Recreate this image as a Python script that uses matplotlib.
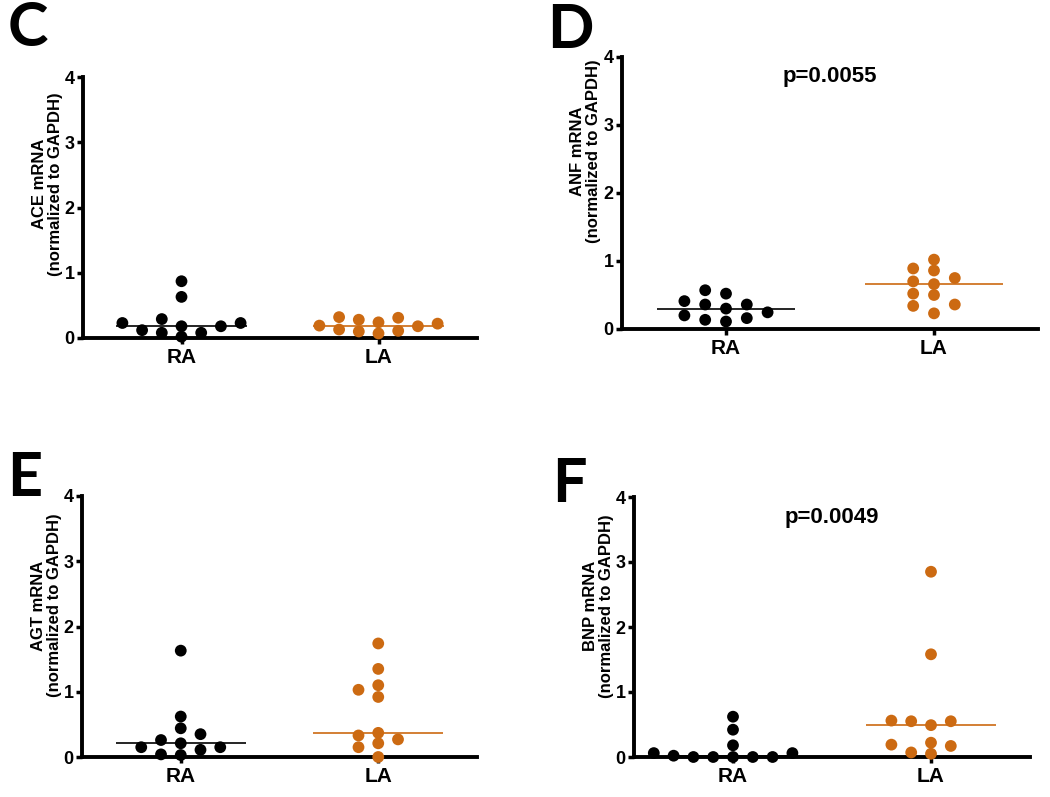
import numpy as np
import matplotlib.pyplot as plt

plt.rcParams['font.family'] = ['Liberation Sans', 'DejaVu Sans']
plt.rcParams['font.weight'] = 'bold'

groups = ["RA", "LA"]
colors = ["#000000", "#CC6A12"]

# values (normalized to GAPDH)
ace_ra = [0.87, 0.63, 0.18, 0.23, 0.02, 0.12, 0.23, 0.08, 0.29, 0.08, 0.18]
ace_la = [0.28, 0.11, 0.22, 0.31, 0.13, 0.19, 0.24, 0.07, 0.18, 0.32, 0.10]
anf_ra = [0.135, 0.41, 0.245, 0.52, 0.36, 0.16, 0.57, 0.36, 0.20, 0.30, 0.11]
anf_la = [0.86, 0.70, 0.52, 0.23, 1.02, 0.75, 0.36, 0.89, 0.66, 0.50, 0.34]
agt_ra = [1.63, 0.62, 0.35, 0.11, 0.44, 0.15, 0.26, 0.04, 0.15, 0.21, 0.03]
agt_la = [1.74, 1.35, 1.10, 0.92, 1.03, 0.33, 0.15, 0.0, 0.27, 0.37, 0.21]
bnp_ra = [0.18, 0.0, 0.06, 0.0, 0.42, 0.06, 0.62, 0.0, 0.02, 0.0, 0.0]
bnp_la = [2.85, 1.58, 0.56, 0.49, 0.55, 0.55, 0.19, 0.22, 0.17, 0.05, 0.07]

panels = ["C", "D", "E", "F"]
genes = ["ACE", "ANF", "AGT", "BNP"]
series = [(ace_ra, ace_la), (anf_ra, anf_la), (agt_ra, agt_la), (bnp_ra, bnp_la)]
pvals = [None, "p=0.0055", None, "p=0.0049"]

# axes boxes in pixels: left, right, top, bottom
W, H = 1050, 797
boxes = [(83, 477, 77, 338), (622, 1038, 57, 329),
         (82, 477, 496, 757), (634, 1030, 497, 757)]
letter_xy = [(8, 0), (547, 2), (7, 450), (552, 456)]
label_y = [0.59, 0.655, 0.58, 0.58]


def swarm(values, slot=0.1, vgap=0.155):
    # simple column beeswarm: nearest free slot around the centre
    values = np.asarray(values, dtype=float)
    steps = [0.0]
    for k in range(1, 40):
        steps += [-k * 0.5, k * 0.5]
    offs = np.zeros(len(values))
    placed = []
    for i in np.argsort(values, kind="stable"):
        v = values[i]
        for s in steps:
            dx = s * slot
            if all(abs(dx - px) > slot * 0.99 or abs(v - py) >= vgap
                   for px, py in placed):
                offs[i] = dx
                placed.append((dx, v))
                break
    return offs


fig = plt.figure(figsize=(W / 100, H / 100), dpi=100)

for n in range(4):
    l, r, t, b = boxes[n]
    ax = fig.add_axes([l / W, 1 - b / H, (r - l) / W, (b - t) / H])
    for j in range(2):
        vals = np.array(series[n][j])
        x = j + 1 + swarm(vals)
        ax.scatter(x, vals, s=72, color=colors[j], edgecolors="none",
                   zorder=4, clip_on=False)
        med = np.median(vals)
        ax.plot([j + 1 - 0.33, j + 1 + 0.33], [med, med], color=colors[j],
                lw=1.2, zorder=3, solid_capstyle="butt")
    ax.set_xlim(0.5, 2.5)
    ax.set_ylim(0, 4)
    ax.set_xticks([1, 2])
    ax.set_xticklabels(groups, fontsize=15, fontweight="bold")
    ax.set_yticks([0, 1, 2, 3, 4])
    ax.set_yticklabels(["0", "1", "2", "3", "4"], fontsize=13, fontweight="bold")
    for sp in ["top", "right"]:
        ax.spines[sp].set_visible(False)
    for sp in ["left", "bottom"]:
        ax.spines[sp].set_linewidth(2.8)
        ax.spines[sp].set_capstyle("projecting")
    ax.tick_params(axis="y", length=4.5, width=2.5, pad=1.5)
    ax.tick_params(axis="x", length=4, width=2.5, pad=3)
    ax.set_ylabel(genes[n] + " mRNA\n(normalized to GAPDH)", fontsize=12,
                  fontweight="bold", linespacing=1.1)
    ax.yaxis.set_label_coords(-0.05, label_y[n])
    if pvals[n]:
        ax.text(0.5, 0.93 if n == 1 else 0.92, pvals[n], transform=ax.transAxes,
                ha="center", va="center", fontsize=16, fontweight="bold")
    lx, ly = letter_xy[n]
    fig.text(lx / W, 1 - ly / H, panels[n], ha="left", va="top",
             fontsize=44, fontweight="bold", family=["Lato", "DejaVu Sans"])

fig.savefig("out.png", dpi=100)
